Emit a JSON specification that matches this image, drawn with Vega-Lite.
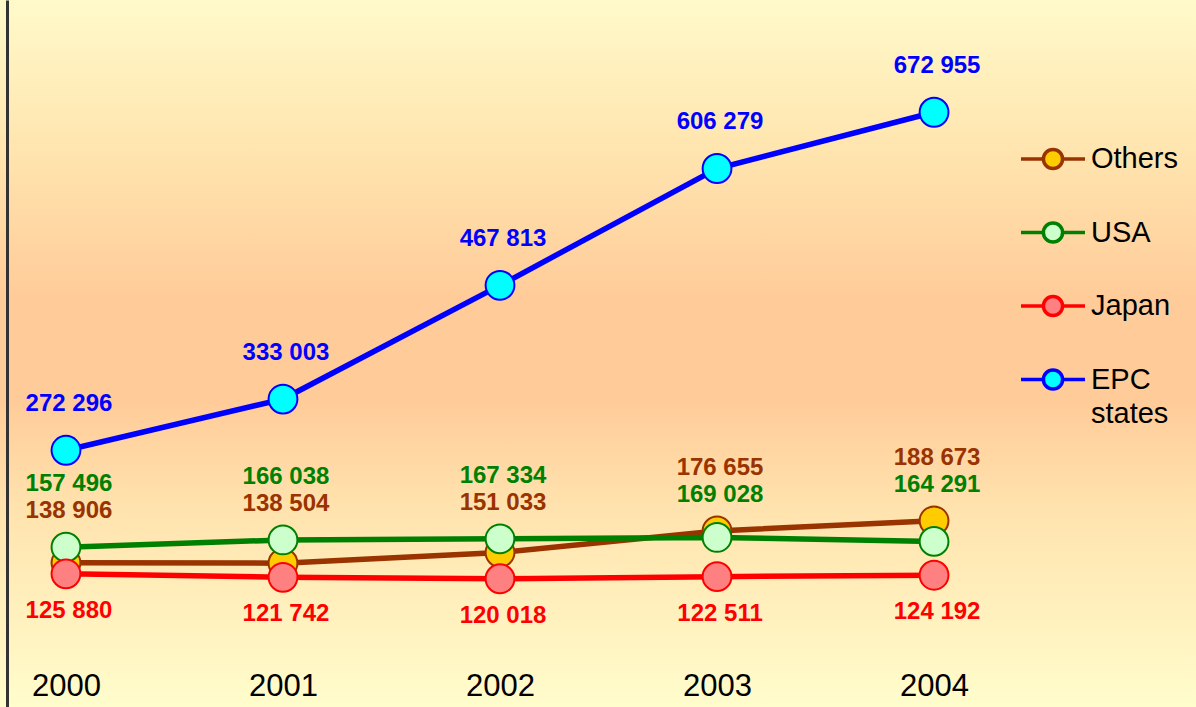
{
  "$schema": "https://vega.github.io/schema/vega-lite/v6.json",
  "width": 1196,
  "height": 707,
  "autosize": {"type": "none"},
  "padding": 0,
  "background": "#FFF6C4",
  "config": {
    "view": {
      "stroke": null,
      "fill": {
        "gradient": "linear",
        "x1": 0, "y1": 0, "x2": 0, "y2": 1,
        "stops": [
          {"offset": 0, "color": "#FFFACA"},
          {"offset": 0.2, "color": "#FFE6B0"},
          {"offset": 0.42, "color": "#FFCC99"},
          {"offset": 0.57, "color": "#FFCC99"},
          {"offset": 0.72, "color": "#FFE3AE"},
          {"offset": 1, "color": "#FFFDCC"}
        ]
      }
    },
    "locale": {
      "number": {"decimal": ".", "thousands": " ", "grouping": [3], "currency": ["", ""]}
    },
    "font": "Liberation Sans",
    "legend": {
      "orient": "none",
      "legendX": 1019,
      "legendY": 125,
      "title": null,
      "symbolType": "M-1,0L-0.3,0M0.3,0L1,0M0.3,0A0.3,0.3 0 1,1 -0.3,0A0.3,0.3 0 1,1 0.3,0Z",
      "symbolSize": 4096,
      "symbolStrokeWidth": 3.5,
      "symbolOpacity": 1,
      "labelFont": "Liberation Sans",
      "labelFontSize": 29,
      "labelColor": "#000000",
      "labelBaseline": "top",
      "labelOffset": 4,
      "labelLimit": 300,
      "rowPadding": 22.5
    }
  },
  "data": {
    "values": [
      {"year": 2000, "series": "Others", "value": 138906},
      {"year": 2001, "series": "Others", "value": 138504},
      {"year": 2002, "series": "Others", "value": 151033},
      {"year": 2003, "series": "Others", "value": 176655},
      {"year": 2004, "series": "Others", "value": 188673},
      {"year": 2000, "series": "USA", "value": 157496},
      {"year": 2001, "series": "USA", "value": 166038},
      {"year": 2002, "series": "USA", "value": 167334},
      {"year": 2003, "series": "USA", "value": 169028},
      {"year": 2004, "series": "USA", "value": 164291},
      {"year": 2000, "series": "Japan", "value": 125880},
      {"year": 2001, "series": "Japan", "value": 121742},
      {"year": 2002, "series": "Japan", "value": 120018},
      {"year": 2003, "series": "Japan", "value": 122511},
      {"year": 2004, "series": "Japan", "value": 124192},
      {"year": 2000, "series": "EPC states", "value": 272296},
      {"year": 2001, "series": "EPC states", "value": 333003},
      {"year": 2002, "series": "EPC states", "value": 467813},
      {"year": 2003, "series": "EPC states", "value": 606279},
      {"year": 2004, "series": "EPC states", "value": 672955}
    ]
  },
  "encoding": {
    "x": {
      "field": "year", "type": "quantitative",
      "scale": {"domain": [1999.696, 2005.207], "nice": false, "zero": false},
      "axis": {
        "orient": "bottom", "offset": -38, "values": [2000, 2001, 2002, 2003, 2004],
        "format": "d", "labelFontSize": 31, "labelFont": "Liberation Sans", "labelColor": "#000000",
        "domain": false, "ticks": false, "grid": false, "title": null, "labelPadding": 2
      }
    },
    "y": {
      "field": "value", "type": "quantitative",
      "scale": {"domain": [-32000, 806000], "nice": false, "zero": false},
      "axis": {
        "orient": "left", "offset": -7, "domain": true, "domainColor": "#333333", "domainWidth": 3,
        "ticks": false, "labels": false, "grid": false, "title": null
      }
    }
  },
  "layer": [
    {
      "mark": {"type": "line", "strokeWidth": 5.5},
      "encoding": {
        "stroke": {
          "field": "series", "type": "nominal",
          "scale": {"domain": ["Others", "USA", "Japan", "EPC states"], "range": ["#993300", "#008000", "#FF0000", "#0000FF"]},
          "legend": {
            "labelExpr": "datum.label == 'EPC states' ? ['EPC', 'states'] : datum.label",
            "encode": {"labels": {"update": {"dy": {"value": -14}, "lineHeight": {"value": 34}}}}
          }
        }
      }
    },
    {
      "mark": {"type": "point", "shape": "circle", "filled": true, "size": 830, "strokeWidth": 2, "opacity": 1},
      "encoding": {
        "stroke": {"field": "series", "type": "nominal"},
        "fill": {
          "field": "series", "type": "nominal",
          "scale": {"domain": ["Others", "USA", "Japan", "EPC states"], "range": ["#FFCC00", "#CCFFCC", "#FF8080", "#00FFFF"]},
          "legend": {
            "labelExpr": "datum.label == 'EPC states' ? ['EPC', 'states'] : datum.label",
            "encode": {"labels": {"update": {"dy": {"value": -14}, "lineHeight": {"value": 34}}}}
          }
        }
      }
    },
    {
      "transform": [{"filter": "datum.series == 'EPC states'"}],
      "mark": {"type": "text", "fontSize": 24, "fontWeight": "bold", "dy": -46, "dx": 3},
      "encoding": {
        "text": {"field": "value", "type": "quantitative", "format": ",d"},
        "color": {
          "field": "series", "type": "nominal", "legend": null,
          "scale": {"domain": ["Others", "USA", "Japan", "EPC states"], "range": ["#993300", "#008000", "#FF0000", "#0000FF"]}
        }
      }
    },
    {
      "transform": [{"filter": "datum.series == 'Japan'"}],
      "mark": {"type": "text", "fontSize": 24, "fontWeight": "bold", "dy": 37, "dx": 3},
      "encoding": {
        "text": {"field": "value", "type": "quantitative", "format": ",d"},
        "color": {"field": "series", "type": "nominal", "legend": null}
      }
    },
    {
      "transform": [
        {"filter": "datum.series == 'Others' || datum.series == 'USA'"},
        {"joinaggregate": [{"op": "max", "field": "value", "as": "ymax"}], "groupby": ["year"]},
        {"window": [{"op": "rank", "as": "rk"}], "sort": [{"field": "value", "order": "descending"}], "groupby": ["year"]},
        {"filter": "datum.rk == 1"}
      ],
      "mark": {"type": "text", "fontSize": 24, "fontWeight": "bold", "dy": -63, "dx": 3},
      "encoding": {
        "y": {"field": "ymax", "type": "quantitative"},
        "text": {"field": "value", "type": "quantitative", "format": ",d"},
        "color": {"field": "series", "type": "nominal", "legend": null}
      }
    },
    {
      "transform": [
        {"filter": "datum.series == 'Others' || datum.series == 'USA'"},
        {"joinaggregate": [{"op": "max", "field": "value", "as": "ymax"}], "groupby": ["year"]},
        {"window": [{"op": "rank", "as": "rk"}], "sort": [{"field": "value", "order": "descending"}], "groupby": ["year"]},
        {"filter": "datum.rk == 2"}
      ],
      "mark": {"type": "text", "fontSize": 24, "fontWeight": "bold", "dy": -36, "dx": 3},
      "encoding": {
        "y": {"field": "ymax", "type": "quantitative"},
        "text": {"field": "value", "type": "quantitative", "format": ",d"},
        "color": {"field": "series", "type": "nominal", "legend": null}
      }
    }
  ]
}
